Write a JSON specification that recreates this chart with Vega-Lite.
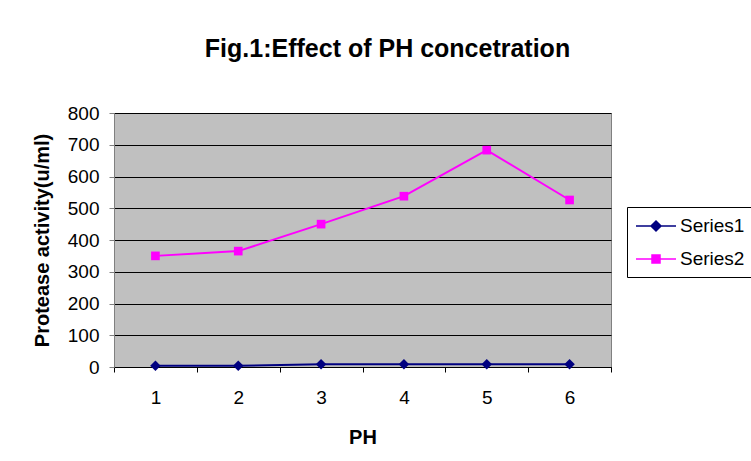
{
  "$schema": "https://vega.github.io/schema/vega-lite/v6.json",
  "width": 497,
  "height": 254,
  "autosize": "none",
  "padding": {"left": 114, "top": 113, "right": 140, "bottom": 94},
  "background": "white",
  "title": {
    "text": "Fig.1:Effect of PH concetration",
    "font": "Liberation Sans",
    "fontSize": 25,
    "fontWeight": "bold",
    "color": "black",
    "anchor": "middle",
    "frame": "group",
    "dx": 25,
    "offset": 42
  },
  "data": {
    "values": [
      {"ph": 1, "series": "Series1", "activity": 4},
      {"ph": 2, "series": "Series1", "activity": 4},
      {"ph": 3, "series": "Series1", "activity": 9},
      {"ph": 4, "series": "Series1", "activity": 9},
      {"ph": 5, "series": "Series1", "activity": 9},
      {"ph": 6, "series": "Series1", "activity": 9},
      {"ph": 1, "series": "Series2", "activity": 350},
      {"ph": 2, "series": "Series2", "activity": 365},
      {"ph": 3, "series": "Series2", "activity": 450},
      {"ph": 4, "series": "Series2", "activity": 538},
      {"ph": 5, "series": "Series2", "activity": 683},
      {"ph": 6, "series": "Series2", "activity": 526}
    ]
  },
  "encoding": {
    "x": {
      "field": "ph",
      "type": "ordinal",
      "bandPosition": 0.5,
      "scale": {"type": "band", "paddingInner": 0, "paddingOuter": 0},
      "axis": {
        "title": "PH",
        "labelAngle": 0,
        "tickBand": "extent",
        "tickSize": 5,
        "tickColor": "black",
        "domainColor": "black",
        "labelPadding": 16,
        "titlePadding": 20,
        "grid": false
      }
    },
    "y": {
      "field": "activity",
      "type": "quantitative",
      "scale": {"domain": [0, 800], "nice": false},
      "axis": {
        "title": "Protease activity(u/ml)",
        "values": [0, 100, 200, 300, 400, 500, 600, 700, 800],
        "tickSize": 5,
        "tickColor": "#808080",
        "domainColor": "#808080",
        "labelPadding": 10,
        "titlePadding": 15,
        "grid": true,
        "gridColor": "black",
        "gridOpacity": 1
      }
    },
    "color": {
      "field": "series",
      "type": "nominal",
      "scale": {"domain": ["Series1", "Series2"], "range": ["#000080", "#FF00FF"]},
      "legend": {
        "title": null,
        "orient": "none",
        "legendX": 513,
        "legendY": 94,
        "strokeColor": "black",
        "fillColor": "white",
        "padding": 8,
        "labelFontSize": 19,
        "labelFont": "Liberation Sans",
        "labelColor": "black",
        "symbolSize": 400,
        "rowPadding": 12,
        "labelOffset": 23,
        "encode": {
          "symbols": {
            "update": {
              "shape": {"signal": "datum.value === 'Series1' ? 'M-1,0H3M1,-0.5L1.5,0L1,0.5L0.5,0Z' : 'M-1,0H3M0.6,-0.4H1.4V0.4H0.6Z'"},
              "fill": {"scale": "color", "field": "value"},
              "stroke": {"scale": "color", "field": "value"},
              "strokeWidth": {"value": 1.5},
              "opacity": {"value": 1}
            }
          }
        }
      }
    }
  },
  "layer": [
    {"mark": {"type": "line", "strokeWidth": 2}},
    {
      "transform": [{"filter": "datum.series === 'Series1'"}],
      "mark": {"type": "point", "shape": "diamond", "filled": true, "size": 110, "opacity": 1}
    },
    {
      "transform": [{"filter": "datum.series === 'Series2'"}],
      "mark": {"type": "point", "shape": "square", "filled": true, "size": 75, "opacity": 1}
    }
  ],
  "config": {
    "view": {"fill": "#C0C0C0", "stroke": "#808080"},
    "axis": {
      "labelFont": "Liberation Sans",
      "labelFontSize": 19,
      "labelColor": "black",
      "titleFont": "Liberation Sans",
      "titleFontSize": 20,
      "titleFontWeight": "bold",
      "titleColor": "black"
    }
  }
}
